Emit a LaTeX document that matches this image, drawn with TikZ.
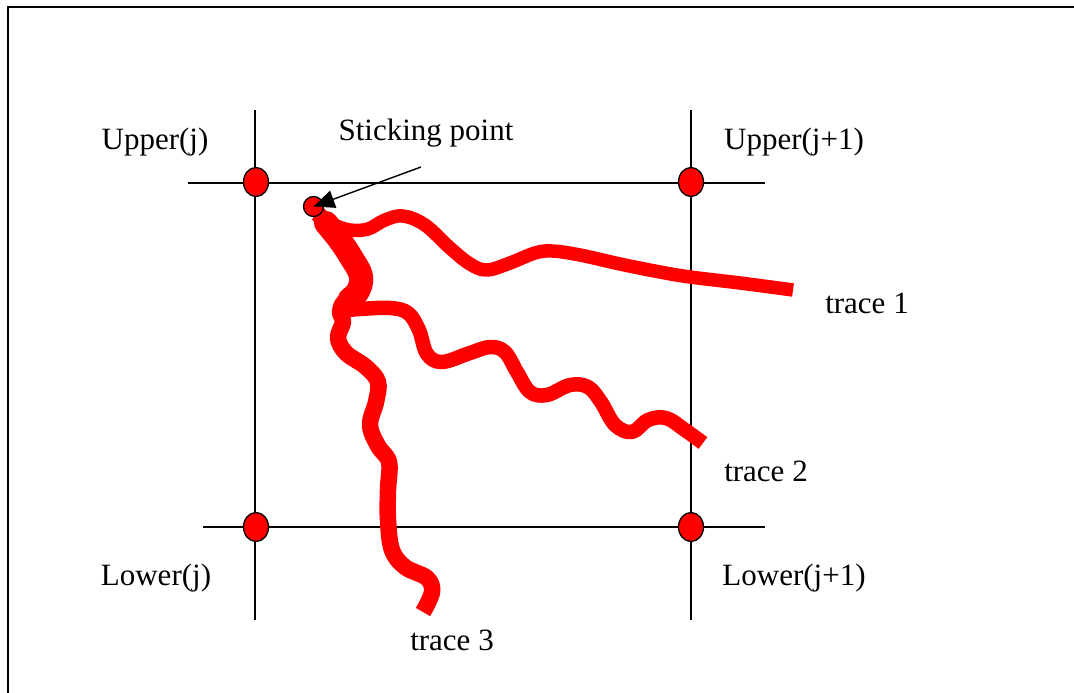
\documentclass[tikz,border=0pt]{standalone}
\usepackage{fontspec}
\setmainfont{Liberation Serif}
\usetikzlibrary{arrows.meta,shapes.geometric}
\begin{document}
\begin{tikzpicture}[x=1pt,y=-1pt,
  gridline/.style={line width=1.4pt,black},
  knot/.style={ellipse,draw=black,line width=1.3pt,fill=red,minimum width=25pt,minimum height=29pt,inner sep=0pt},
  lbl/.style={font=\fontsize{31}{36}\selectfont,inner sep=0pt},
  trace/.style={red,line cap=butt,line join=round}
]
\useasboundingbox (0,0) rectangle (1074,693);
\fill[white] (0,0) rectangle (1074,693);
% outer frame (only top and left edges fall inside the picture)
\coordinate (fbl) at (8,693); \coordinate (ftl) at (8,7); \coordinate (ftr) at (1074,7);
\draw[line width=1.8pt] (fbl) -- (ftl) -- (ftr);
% grid lines
\coordinate (v1t) at (255,110); \coordinate (v1b) at (255,620);
\coordinate (v2t) at (691,110); \coordinate (v2b) at (691,620);
\coordinate (h1l) at (188,183); \coordinate (h1r) at (765,183);
\coordinate (h2l) at (203,527); \coordinate (h2r) at (765,527);
\draw[gridline] (v1t) -- (v1b);
\draw[gridline] (v2t) -- (v2b);
\draw[gridline] (h1l) -- (h1r);
\draw[gridline] (h2l) -- (h2r);
% traces
\draw[trace,line width=13.5pt] plot[smooth,tension=0.6] coordinates {(316,214) (332,224) (350,230) (368,229) (385,220) (403,216) (425,225) (450,248) (470,264) (487,270) (510,263) (535,253) (552,251) (580,255) (620,264) (660,272) (690,277) (740,283) (793,290)};
\draw[trace,line width=14.5pt] plot[smooth,tension=0.6] coordinates {(338,311) (360,309) (390,308) (408,313) (419,330) (427,354) (442,362) (470,353) (490,347) (505,352) (517,372) (530,392) (547,395) (570,385) (588,387) (601,402) (615,425) (632,432) (648,420) (666,418) (685,430) (703,443)};
\draw[trace,line width=16.5pt] plot[smooth,tension=0.6] coordinates {(318,214) (332,230) (347,250) (360,272) (358,290) (344,302) (340,312) (343,322) (338,338) (346,353) (366,367) (378,382) (376,402) (370,425) (378,446) (389,462) (388,490) (388,520) (392,550) (405,567) (427,578) (432,592) (423,612)};
\draw[trace,line width=24pt,line cap=round] plot[smooth,tension=0.6] coordinates {(326,223) (339,239) (351,257) (361,276) (358,291) (350,299)};
% knots
\node[knot] (uj) at (256,182) {};
\node[knot] (uj1) at (691,182) {};
\node[knot] (lj) at (256,527) {};
\node[knot] (lj1) at (691,527) {};
% sticking point
\node[circle,draw=black,line width=1.3pt,fill=red,minimum size=20pt,inner sep=0pt] (sp) at (313.5,206.5) {};
\coordinate (arrs) at (421,167);
\draw[line width=1.4pt,-{Triangle[length=21pt,width=18pt]}] (arrs) -- (sp.center);
% labels
\node[lbl] (tuj) at (155,142) {Upper(j)};
\node[lbl] (tuj1) at (794,142) {Upper(j+1)};
\node[lbl] (tlj) at (156,578) {Lower(j)};
\node[lbl] (tlj1) at (794,578) {Lower(j+1)};
\node[lbl] (tsp) at (426,133) {Sticking point};
\node[lbl] (t1) at (867,303) {trace 1};
\node[lbl] (t2) at (766,471) {trace 2};
\node[lbl] (t3) at (452,640) {trace 3};
\end{tikzpicture}
\end{document}
